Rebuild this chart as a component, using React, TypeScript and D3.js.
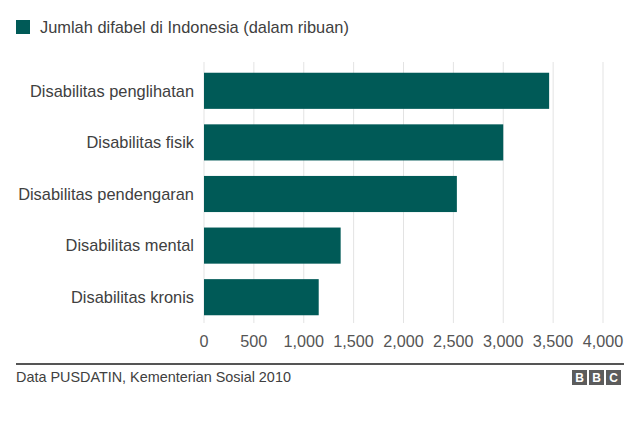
import * as d3 from "d3";

const categories = [
  "Disabilitas penglihatan",
  "Disabilitas fisik",
  "Disabilitas pendengaran",
  "Disabilitas mental",
  "Disabilitas kronis",
];
const values = [3460, 3000, 2535, 1370, 1150];
const tickValues = [0, 500, 1000, 1500, 2000, 2500, 3000, 3500, 4000];

const legendLabel = "Jumlah difabel di Indonesia (dalam ribuan)";
const source = "Data PUSDATIN, Kementerian Sosial 2010";

const W = 640;
const H = 425;
const barColor = "#005a57";
const font = "'Liberation Sans', Arial, Helvetica, sans-serif";

export default function App() {
  const x = d3.scaleLinear().domain([0, 4000]).range([204, 603]);
  const y = d3
    .scaleBand()
    .domain(categories)
    .range([65, 323])
    .paddingInner(0.3)
    .paddingOuter(0.15);
  const fmt = d3.format(",");

  return (
    <svg
      width={W}
      height={H}
      style={{ position: "absolute", left: 0, top: 0, background: "#fff" }}
      fontFamily={font}
    >
      {/* legend */}
      <rect x={16} y={20} width={14} height={14} fill={barColor} />
      <text x={40} y={33} fontSize={16.4} fill="#404040">
        {legendLabel}
      </text>

      {/* grid */}
      {tickValues.map((t) => (
        <line
          key={t}
          x1={x(t)}
          x2={x(t)}
          y1={62}
          y2={323}
          stroke="#e3e3e3"
          strokeWidth={1}
        />
      ))}

      {/* bars */}
      {categories.map((c, i) => (
        <g key={c}>
          <rect
            x={x(0)}
            y={y(c)}
            width={x(values[i]) - x(0)}
            height={y.bandwidth()}
            fill={barColor}
          />
          <text
            x={194}
            y={(y(c) as number) + y.bandwidth() / 2}
            dy="0.35em"
            textAnchor="end"
            fontSize={16.4}
            fill="#404040"
          >
            {c}
          </text>
        </g>
      ))}

      {/* x tick labels */}
      {tickValues.map((t) => (
        <text
          key={t}
          x={x(t)}
          y={347}
          textAnchor="middle"
          fontSize={16.2}
          fill="#555"
        >
          {fmt(t)}
        </text>
      ))}

      {/* footer */}
      <line x1={16} x2={624} y1={364} y2={364} stroke="#555" strokeWidth={2} />
      <text x={16} y={382} fontSize={14.4} fill="#404040">
        {source}
      </text>
      {["B", "B", "C"].map((l, i) => (
        <g key={i}>
          <rect x={572 + i * 17} y={370} width={15} height={15} fill="#5c5c5c" />
          <text
            x={572 + i * 17 + 7.5}
            y={382}
            textAnchor="middle"
            fontSize={12}
            fontWeight="bold"
            fill="#fff"
          >
            {l}
          </text>
        </g>
      ))}
    </svg>
  );
}
